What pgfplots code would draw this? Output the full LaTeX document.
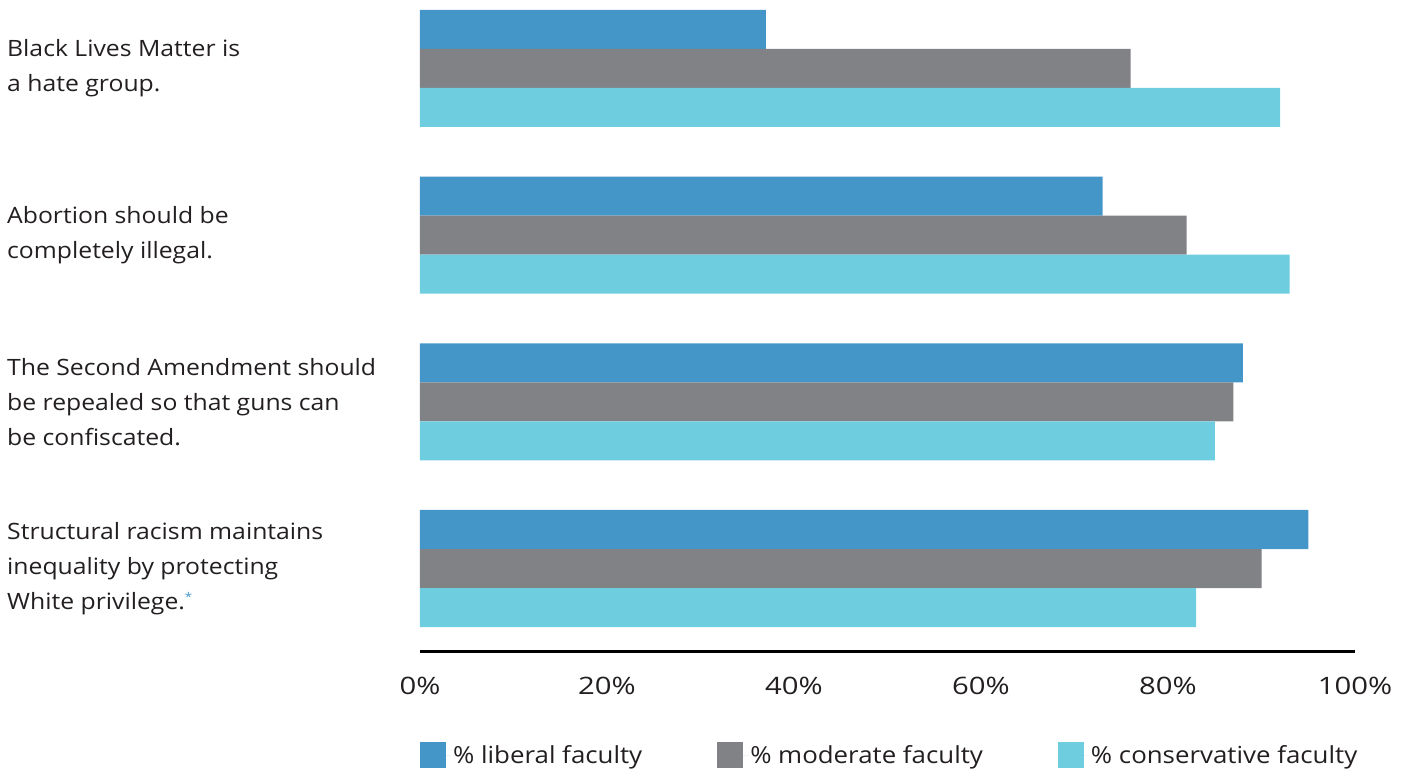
\documentclass[border=0pt]{standalone}
\usepackage{pgfplots}
\pgfplotsset{compat=1.18}
\usepackage{fontspec}
\setmainfont{Open Sans}[FakeStretch=1.1]
\newfontfamily\tickfont{Open Sans}[FakeStretch=1.22]
\definecolor{lib}{HTML}{4596C8}
\definecolor{mod}{HTML}{818286}
\definecolor{con}{HTML}{6FCDE0}
\definecolor{txt}{HTML}{231F20}
\begin{document}
\begin{tikzpicture}
\path[use as bounding box] (-420bp,-127bp) rectangle (981bp,651bp);
\begin{axis}[
  at={(0,0)}, anchor=south west,
  scale only axis, width=935bp, height=651bp,
  xmin=0, xmax=100, ymin=0, ymax=651,
  xbar, bar width=39, bar shift=0pt,
  axis x line*=bottom,
  axis y line*=left,
  y axis line style={draw=none},
  x axis line style={line width=3bp, black, -},
  xtick={0,20,...,100},
  xticklabel={\pgfmathprintnumber{\tick}\%},
  xticklabel style={font=\tickfont\fontsize{24bp}{30bp}\selectfont, text=txt, anchor=north, yshift=-23bp},
  /pgf/number format/assume math mode=true,
  major tick length=0pt,
  ytick style={draw=none},
  ytick={582.5,415.8,249.2,82.5},
  yticklabels={{Black Lives Matter is\\a hate group.},{Abortion should be\\completely illegal.},{The Second Amendment should\\be repealed so that guns can\\be confiscated.},{Structural racism maintains\\inequality by protecting\\White privilege.\textsuperscript{\textcolor{lib}{\fontsize{12bp}{12bp}\selectfont *}}}},
  yticklabel style={font=\fontsize{22.5bp}{35bp}\selectfont, text=txt, anchor=west, align=left, inner sep=0pt, xshift=-413bp},
  legend style={draw=none, fill=none, inner sep=0pt, at={(axis description cs:0,0)}, anchor=north west, yshift=-91bp,
    font=\fontsize{23.5bp}{28bp}\selectfont, text=txt,
    /tikz/every even column/.append style={column sep=73bp}},
  legend columns=3,
  legend cell align=left,
  legend image code/.code={\fill[#1] (0bp,-13bp) rectangle (26bp,13bp); \path (0bp,0bp) -- (31bp,0bp);},
  clip=false,
]
\addplot[draw=none, fill=lib] coordinates {(37,621.5) (73,454.8) (88,288.2) (95,121.5)};
\addlegendentry{\% liberal faculty}
\addplot[draw=none, fill=mod] coordinates {(76,582.5) (82,415.8) (87,249.2) (90,82.5)};
\addlegendentry{\% moderate faculty}
\addplot[draw=none, fill=con] coordinates {(92,543.5) (93,376.8) (85,210.2) (83,43.5)};
\addlegendentry{\% conservative faculty}
\end{axis}
\end{tikzpicture}
\end{document}
